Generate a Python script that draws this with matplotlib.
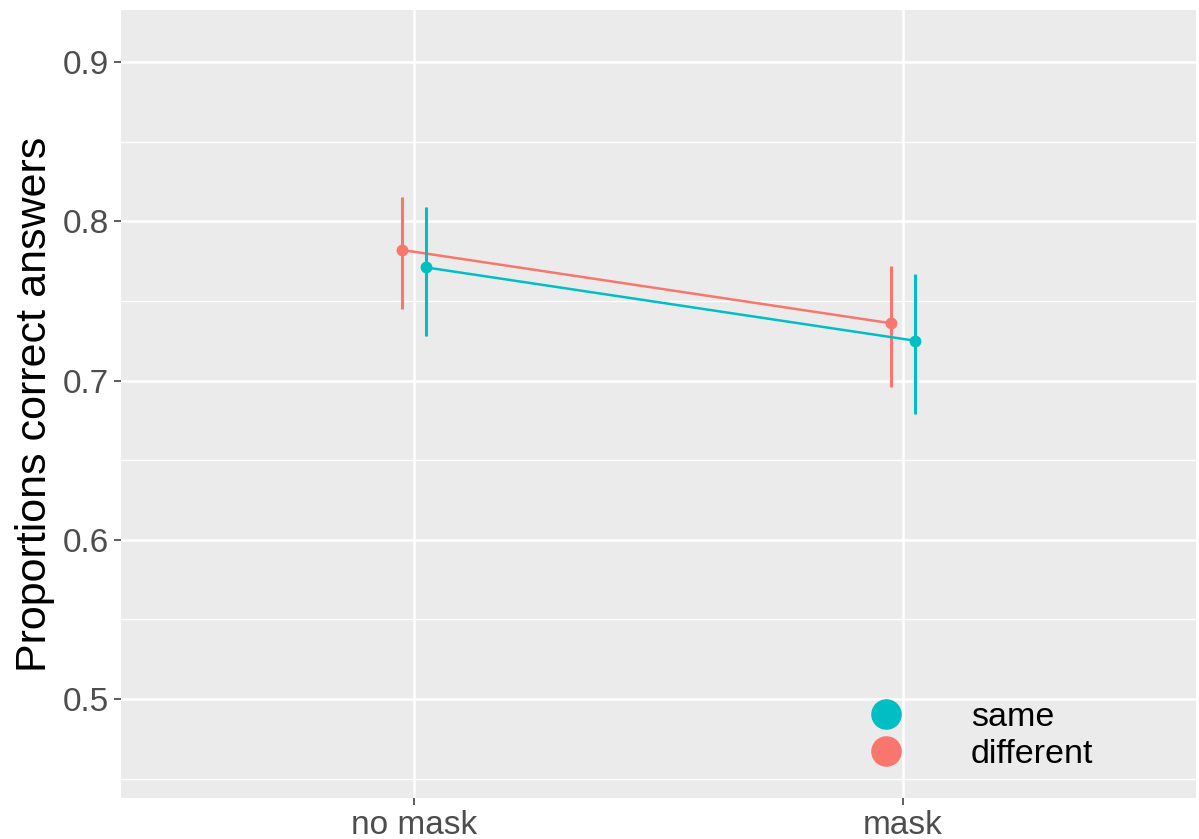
import matplotlib.pyplot as plt
from matplotlib.lines import Line2D
import numpy as np

# valores
condicoes = ["no mask", "mask"]
grupos = ["same", "different"]
media_same = [0.771, 0.725]
inf_same = [0.728, 0.679]
sup_same = [0.809, 0.767]
media_diff = [0.782, 0.736]
inf_diff = [0.745, 0.696]
sup_diff = [0.815, 0.772]

cores = {"same": "#00BFC4", "different": "#F8766D"}
desloc = {"same": 0.025, "different": -0.025}

plt.rcParams['font.family'] = ['Liberation Sans', 'DejaVu Sans']

fig = plt.figure(figsize=(11.99, 8.39), dpi=100)
ax = fig.add_axes([121/1199, 1-798/839, 1075/1199, 788/839])
ax.set_facecolor("#EBEBEB")

x = np.arange(1, len(condicoes) + 1)
dados = {
    "same": (media_same, inf_same, sup_same),
    "different": (media_diff, inf_diff, sup_diff),
}
# desenha different primeiro, same por cima
for g in ["different", "same"]:
    m, lo, hi = dados[g]
    xs = x + desloc[g]
    ax.vlines(xs, lo, hi, color=cores[g], linewidth=2.2, zorder=3)
    ax.plot(xs, m, color=cores[g], linewidth=1.8, zorder=3)
    ax.plot(xs, m, "o", color=cores[g], markersize=7.5, zorder=4)

ax.set_xlim(0.4, 2.6)
ax.set_ylim(0.4378, 0.9327)
ax.set_xticks(x)
ax.set_xticklabels(condicoes)
ax.set_yticks([0.5, 0.6, 0.7, 0.8, 0.9])
ax.set_yticks([0.45, 0.55, 0.65, 0.75, 0.85], minor=True)
ax.grid(True, which="major", color="white", linewidth=1.8)
ax.grid(True, which="minor", axis="y", color="white", linewidth=0.9)
ax.set_axisbelow(True)
for s in ax.spines.values():
    s.set_visible(False)
ax.tick_params(axis="both", which="major", labelsize=24, labelcolor="#4D4D4D",
               color="#333333", length=5, width=1.1, pad=4)
ax.tick_params(axis="y", which="minor", length=0)
ax.set_ylabel("Proportions correct answers", fontsize=31, labelpad=5.5)

handles = [Line2D([], [], marker="o", linestyle="", color=cores[g], markersize=21)
           for g in grupos]
leg = ax.legend(handles, grupos, loc="upper left",
                bbox_to_anchor=(869/1199, 1-702/839), bbox_transform=fig.transFigure,
                frameon=False, fontsize=24.5, handlelength=1.0, handletextpad=2.0,
                labelspacing=0.17, borderpad=0, borderaxespad=0)

fig.savefig("out.png", dpi=100)
